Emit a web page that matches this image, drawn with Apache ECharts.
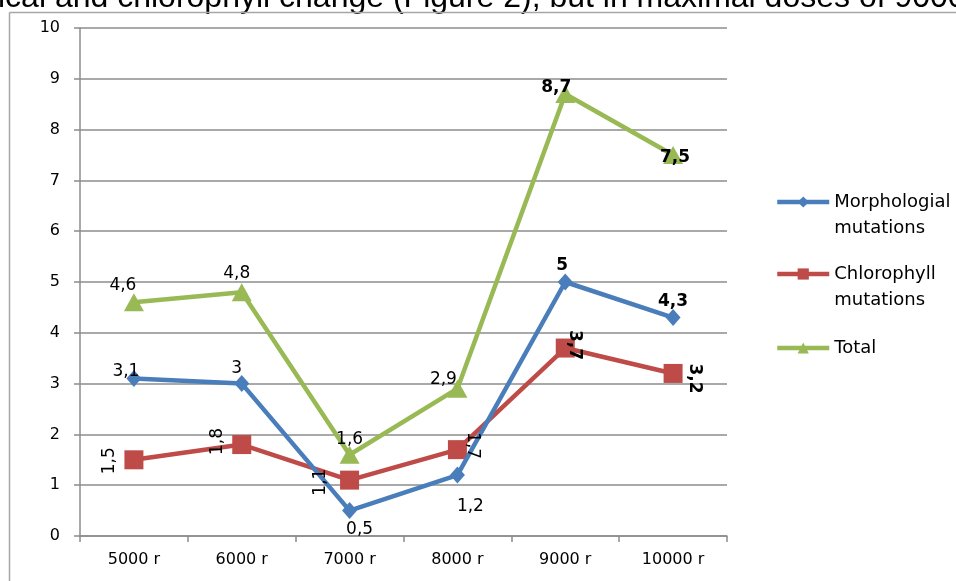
<!DOCTYPE html>
<html><head><meta charset="utf-8">
<script src="https://cdn.jsdelivr.net/npm/echarts@6/dist/echarts.min.js"></script>
<style>html,body{margin:0;padding:0;background:#fff}#c{width:956px;height:581px}</style>
</head><body><div id="c"></div>
<script>
const categories = ['5000 r','6000 r','7000 r','8000 r','9000 r','10000 r'];
const morphological = [3.1, 3, 0.5, 1.2, 5, 4.3];
const chlorophyll = [1.5, 1.8, 1.1, 1.7, 3.7, 3.2];
const total = [4.6, 4.8, 1.6, 2.9, 8.7, 7.5];
const yTicks = [0,1,2,3,4,5,6,7,8,9,10];
const seriesNames = ['Morphologial mutations','Chlorophyll mutations','Total'];
const headerText = 'ical and chlorophyll change (Figure 2), but in maximal doses of 9000';

const FONT = 'DejaVu Sans';
const fmt = v => String(v).replace('.', ',');

// label placement on screen: [dx, dy, rotate, bold]
const morphLab = [[-8,-7,0,0],[-5,-15,0,0],[10,19,0,0],[13,32,0,0],[-3,-16,0,1],[0,-16,0,1]];
const chloLab  = [[-24,1,90,0],[-24,-3,90,0],[-29,2,90,0],[15,-4,-90,0],[9,-3,-90,1],[21,5,-90,1]];
const totLab   = [[-11,-17,0,0],[-5,-19,0,0],[0,-15,0,0],[-14,-9,0,0],[-9,-6,0,1],[2,3,0,1]];

function localOffset(dx, dy, deg) {
  const t = deg * Math.PI / 180;
  return [dx * Math.cos(t) - dy * Math.sin(t), dx * Math.sin(t) + dy * Math.cos(t)];
}

function buildLabels(values, lab) {
  return values.map((v, i) => ({
    value: v,
    label: {
      show: true, position: 'inside',
      offset: localOffset(lab[i][0], lab[i][1], lab[i][2]), rotate: lab[i][2],
      fontWeight: lab[i][3] ? 'bold' : 'normal',
      formatter: p => fmt(p.value)
    }
  }));
}

const labelBase = { color: '#000', fontFamily: FONT, fontSize: 17 };
const colors = ['#4A7EBB', '#BE4B48', '#98B954'];

function labelSeries(values, lab) {
  return { type: 'line', data: buildLabels(values, lab), symbol: 'circle', symbolSize: 1,
    itemStyle: { color: 'rgba(0,0,0,0)' }, lineStyle: { width: 0, opacity: 0 },
    label: labelBase, z: 20, silent: true };
}

const chart = echarts.init(document.getElementById('c'), null, {renderer: 'canvas'});
const legendCommon = {
  orient: 'vertical', left: 775, itemWidth: 52, itemHeight: 14, padding: 0,
  lineStyle: { width: 4.5 },
  textStyle: { fontFamily: FONT, fontSize: 18, color: '#000', lineHeight: 26 },
  selectedMode: false
};
chart.setOption({
  animation: false,
  color: colors,
  graphic: [
    { type: 'text', left: -2, top: -18, style: { text: headerText, font: '32px "Liberation Sans"', fill: '#000' } },
    { type: 'line', shape: { x1: 9.5, y1: 12.5, x2: 956, y2: 12.5 }, style: { stroke: '#a6a6a6', lineWidth: 1.5 } },
    { type: 'line', shape: { x1: 9.5, y1: 12.5, x2: 9.5, y2: 581 }, style: { stroke: '#a6a6a6', lineWidth: 1.5 } }
  ],
  legend: [
    Object.assign({}, legendCommon, { top: 163, data: [seriesNames[0]], formatter: () => ' \nMorphologial\nmutations' }),
    Object.assign({}, legendCommon, { top: 235, data: [seriesNames[1]], formatter: () => ' \nChlorophyll\nmutations' }),
    Object.assign({}, legendCommon, { top: 335, data: [seriesNames[2]] })
  ],
  grid: { left: 80, right: 229, top: 28, bottom: 45, containLabel: false },
  xAxis: {
    type: 'category', data: categories, boundaryGap: true,
    axisLine: { lineStyle: { color: '#8c8c8c', width: 1.5 } },
    axisTick: { show: true, length: 6, lineStyle: { color: '#8c8c8c', width: 1.5 } },
    axisLabel: { fontFamily: FONT, fontSize: 16, color: '#000', margin: 16 }
  },
  yAxis: {
    type: 'value', min: yTicks[0], max: yTicks[yTicks.length-1], interval: 1,
    axisLine: { show: true, lineStyle: { color: '#8c8c8c', width: 1.5 } },
    axisTick: { show: true, length: 6, lineStyle: { color: '#8c8c8c', width: 1.5 } },
    splitLine: { lineStyle: { color: '#8c8c8c', width: 1.5 } },
    axisLabel: { fontFamily: FONT, fontSize: 16, color: '#000', margin: 20 }
  },
  series: [
    { name: seriesNames[0], type: 'line', data: morphological, symbol: 'diamond', symbolSize: [15, 17],
      lineStyle: { width: 4.5 }, z: 4 },
    { name: seriesNames[1], type: 'line', data: chlorophyll, symbol: 'rect', symbolSize: 19,
      lineStyle: { width: 4.5 }, z: 3 },
    { name: seriesNames[2], type: 'line', data: total, symbol: 'triangle', symbolSize: [20, 18],
      lineStyle: { width: 4.5 }, z: 5 },
    labelSeries(morphological, morphLab),
    labelSeries(chlorophyll, chloLab),
    labelSeries(total, totLab)
  ]
});
</script></body></html>
